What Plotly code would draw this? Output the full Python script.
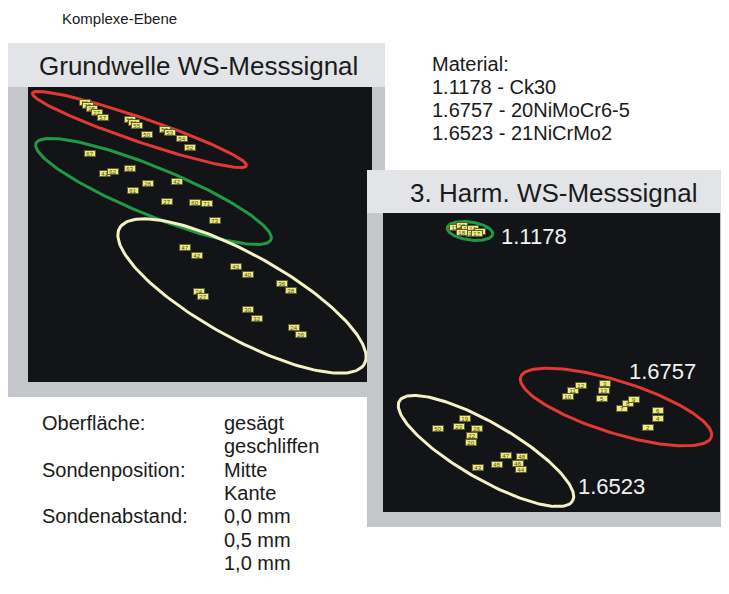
import numpy as np
import plotly.graph_objects as go

# page body has an 8px margin: figure is laid out in page pixels shifted by OFF
OFF = 8
W, H = 721, 578

# ---------------- data: complex plane points (Re, Im), arbitrary units ----------------
# Grundwelle (fundamental) panel
gw_1_6757_re = [57, 60, 64, 69, 75, 102, 106, 109, 119, 137, 142, 154, 162]
gw_1_6757_im = [277, 274, 271, 267, 262, 260, 257, 254, 245, 250, 247, 242, 233]
gw_1_6757_lab = ["26", "28", "25", "27", "57", "58", "51", "55", "50", "59", "53", "54", "52"]

gw_1_1178_re = [62, 77, 85, 102, 105, 120, 149, 139, 167, 179, 187]
gw_1_1178_im = [227, 207, 209, 212, 190, 197, 199, 179, 178, 177, 160]
gw_1_1178_lab = ["67", "41", "62", "63", "61", "26", "42", "27", "60", "71", "73"]

gw_1_6523_re = [157, 169, 208, 220, 254, 263, 171, 175, 220, 229, 266, 273]
gw_1_6523_im = [133, 125, 114, 106, 97, 90, 89, 84, 71, 62, 53, 46]
gw_1_6523_lab = ["47", "42", "43", "40", "36", "38", "24", "27", "30", "32", "24", "26"]

# 3. Harmonische panel
h3_1_1178_re = [70, 77, 82, 88, 95, 87, 92, 77]
h3_1_1178_im = [285, 287, 284, 284, 281, 279, 279, 280]
h3_1_1178_lab = ["11", "12", "13", "14", "15", "16", "17", "18"]

h3_1_6757_re = [183, 188, 196, 220, 219, 217, 237, 243, 249, 273, 273, 263]
h3_1_6757_im = [116, 122, 127, 129, 122, 114, 104, 109, 113, 102, 94, 85]
h3_1_6757_lab = ["10", "11", "12", "3", "13", "5", "7", "8", "9", "6", "4", "2"]

h3_1_6523_re = [53, 74, 80, 92, 87, 86, 93, 112, 121, 137, 133, 136]
h3_1_6523_im = [84, 86, 94, 84, 77, 70, 45, 48, 57, 56, 49, 43]
h3_1_6523_lab = ["50", "23", "19", "26", "22", "20", "43", "45", "47", "48", "46", "44"]

# cluster ellipses: centre Re, centre Im, semi-axis a, semi-axis b, angle (deg)
gw_ell_1_6757 = [111.5, 250.5, 113, 12, -18.75]
gw_ell_1_1178 = [125.5, 188.5, 127, 24, -22.3]
gw_ell_1_6523 = [214, 84, 140, 42, -29]
h3_ell_1_1178 = [85, 281, 23, 9, -8]
h3_ell_1_6757 = [231, 105, 100, 26, -17.4]
h3_ell_1_6523 = [101, 61, 100, 28, -30]

material_lines = ["Material:", "1.1178 - Ck30", "1.6757 - 20NiMoCr6-5", "1.6523 - 21NiCrMo2"]
legend_left = ["Oberfläche:", "", "Sondenposition:", "", "Sondenabstand:", "", ""]
legend_right = ["gesägt", "geschliffen", "Mitte", "Kante", "0,0 mm", "0,5 mm", "1,0 mm"]

# ---------------- styling ----------------
FONT = "Liberation Sans, Arial, Helvetica, sans-serif"
RED = "#e23a33"
GREEN = "#1f9a45"
CREAM = "#f6f2c6"
DARK = "#131417"
FRAME = "#c4c6ca"
TITLEBAR = "#e3e4e7"
BOX = "#f0ec7a"


def pxx(x):
    return (x - OFF) / W


def pxy(y):
    return 1 - (y - OFF) / H


def ellipse(spec, n=200):
    cx, cy, a, b, ang = spec
    t = np.linspace(0, 2 * np.pi, n)
    th = np.deg2rad(ang)
    x = cx + a * np.cos(t) * np.cos(th) - b * np.sin(t) * np.sin(th)
    y = cy + a * np.cos(t) * np.sin(th) + b * np.sin(t) * np.cos(th)
    return x, y


fig = go.Figure()

for spec, col, xa, ya in [
    (gw_ell_1_6757, RED, "x", "y"),
    (gw_ell_1_1178, GREEN, "x", "y"),
    (gw_ell_1_6523, CREAM, "x", "y"),
    (h3_ell_1_1178, GREEN, "x2", "y2"),
    (h3_ell_1_6757, RED, "x2", "y2"),
    (h3_ell_1_6523, CREAM, "x2", "y2"),
]:
    ex, ey = ellipse(spec)
    fig.add_trace(go.Scatter(x=ex, y=ey, mode="lines", line=dict(color=col, width=3),
                             hoverinfo="skip", showlegend=False, xaxis=xa, yaxis=ya))

annotations = []
for res, ims, labs, xr, yr in [
    (gw_1_6757_re, gw_1_6757_im, gw_1_6757_lab, "x", "y"),
    (gw_1_1178_re, gw_1_1178_im, gw_1_1178_lab, "x", "y"),
    (gw_1_6523_re, gw_1_6523_im, gw_1_6523_lab, "x", "y"),
    (h3_1_1178_re, h3_1_1178_im, h3_1_1178_lab, "x2", "y2"),
    (h3_1_6757_re, h3_1_6757_im, h3_1_6757_lab, "x2", "y2"),
    (h3_1_6523_re, h3_1_6523_im, h3_1_6523_lab, "x2", "y2"),
]:
    for xv, yv, lb in zip(res, ims, labs):
        annotations.append(dict(x=xv, y=yv, xref=xr, yref=yr, text=lb, showarrow=False,
                                font=dict(size=6, color="#4a4a30", family=FONT),
                                bgcolor=BOX, bordercolor="#5e5d35", borderwidth=1,
                                borderpad=0, width=10, height=5))


def txt(x, y, s, size, color="#1a1a1a", anchor="left"):
    annotations.append(dict(x=pxx(x), y=pxy(y), xref="paper", yref="paper", text=s,
                            showarrow=False, xanchor=anchor, yanchor="middle",
                            font=dict(size=size, color=color, family=FONT)))


txt(120, 18, "Komplexe-Ebene", 15, anchor="center")
txt(198, 66, "Grundwelle WS-Messsignal", 26, anchor="center")
txt(554, 193, "3. Harm. WS-Messsignal", 26, anchor="center")
for i, s in enumerate(material_lines):
    txt(430, 64 + i * 23, s, 20)
for i, (a, b) in enumerate(zip(legend_left, legend_right)):
    if a:
        txt(40, 423 + i * 23.3, a, 20)
    txt(222, 423 + i * 23.3, b, 20)
txt(499, 237, "1.1178", 22, color="#f2f2f2")
txt(627, 371, "1.6757", 22, color="#f2f2f2")
txt(576, 486, "1.6523", 22, color="#f2f2f2")


def rect(x0, y0, x1, y1, col):
    return dict(type="rect", xref="paper", yref="paper", x0=pxx(x0), x1=pxx(x1),
                y0=pxy(y1), y1=pxy(y0), fillcolor=col, line=dict(width=0), layer="below")


shapes = [
    rect(8, 43, 385, 397, FRAME),
    rect(8, 43, 385, 87, TITLEBAR),
    rect(28, 87, 372, 382, DARK),
    rect(367, 170, 727, 527, FRAME),
    rect(367, 170, 727, 213, TITLEBAR),
    rect(383, 213, 720, 512, DARK),
]

ax_common = dict(showgrid=False, zeroline=False, showticklabels=False, showline=False,
                 ticks="", fixedrange=True)

fig.update_layout(
    width=W, height=H, margin=dict(l=0, r=0, t=0, b=0),
    paper_bgcolor="white", plot_bgcolor="rgba(0,0,0,0)",
    showlegend=False,
    xaxis=dict(domain=[pxx(28), pxx(367)], range=[0, 339], **ax_common),
    yaxis=dict(domain=[pxy(382), pxy(87)], range=[-2, 293], **ax_common),
    xaxis2=dict(domain=[pxx(383), pxx(720)], range=[-2, 335], anchor="y2", **ax_common),
    yaxis2=dict(domain=[pxy(512), pxy(213)], range=[0, 299], anchor="x2", **ax_common),
    shapes=shapes,
    annotations=annotations,
)

fig.write_html("out.html")
